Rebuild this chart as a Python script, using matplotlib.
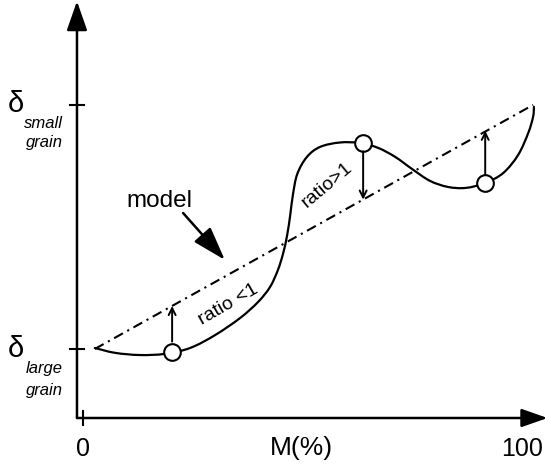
import numpy as np
import matplotlib.pyplot as plt
from matplotlib.path import Path
from matplotlib.patches import PathPatch

plt.rcParams['font.family'] = ['Liberation Sans', 'DejaVu Sans']

# measured curve (x in M%, y: 0 = delta large grain, 1 = delta small grain)
curve_x = [2.7, 7.3, 13.0, 18.7, 24.4, 30.1, 35.8, 39.9, 42.6, 44.4, 45.6,
           46.5, 47.2, 47.8, 48.8, 51.0, 54.0, 58.5, 63.1, 67.2, 71.1, 74.9,
           79.0, 83.1, 87.2, 91.6, 95.7, 99.1, 101.4, 102.5, 102.7]
curve_y = [0.004, -0.016, -0.025, -0.020, 0.004, 0.057, 0.127, 0.193, 0.254,
           0.324, 0.393, 0.467, 0.549, 0.631, 0.717, 0.787, 0.828, 0.846,
           0.844, 0.824, 0.787, 0.738, 0.689, 0.664, 0.660, 0.680, 0.721,
           0.795, 0.885, 0.951, 0.992]

model_x = [2.7, 102.5]
model_y = [0.0, 1.0]

circle_x = [20.3, 63.8, 91.6]
circle_y = [-0.012, 0.844, 0.680]

# ratio arrows: from the curve point to the model line
ratio_x = [20.3, 63.8, 91.6]
ratio_from = [0.03, 0.81, 0.715]
ratio_to = [0.176, 0.612, 0.894]

x_ticks = [0, 100]
x_tick_labels = ['0', '100']


def smooth_path(xs, ys):
    # catmull-rom through the points, drawn as cubic bezier segments
    p = np.column_stack([xs, ys])
    p = np.vstack([p[0], p, p[-1]])
    verts = [p[1]]
    codes = [Path.MOVETO]
    for i in range(1, len(p) - 2):
        c1 = p[i] + (p[i + 1] - p[i - 1]) / 6
        c2 = p[i + 1] - (p[i + 2] - p[i]) / 6
        verts += [c1, c2, p[i + 1]]
        codes += [Path.CURVE4] * 3
    return Path(verts, codes)


fig = plt.figure(figsize=(5.48, 4.69), dpi=100)
ax = fig.add_axes([0, 0, 1, 1])
ax.set_xlim(-18.9, 105.9)
ax.set_ylim(-0.492, 1.430)
ax.axis('off')

# axes with arrows
ax.annotate('', xy=(-1.37, 1.425), xytext=(-1.37, -0.283),
            arrowprops=dict(arrowstyle='-|>,head_length=1.0,head_width=0.35',
                            mutation_scale=18, lw=1.8, color='black',
                            shrinkA=0, shrinkB=0))
ax.annotate('', xy=(105.8, -0.283), xytext=(-1.37, -0.283),
            arrowprops=dict(arrowstyle='-|>,head_length=1.0,head_width=0.35',
                            mutation_scale=16, lw=1.8, color='black',
                            shrinkA=0, shrinkB=0))

# ticks
for xt in x_ticks:
    ax.plot([xt, xt], [-0.253, -0.313], color='black', lw=1.5)
for yt in [0, 1]:
    ax.plot([-2.9, 0.2], [yt, yt], color='black', lw=1.5)

# tick labels
for xt, lab in zip(x_ticks, x_tick_labels):
    ax.text(xt, -0.41, lab, ha='center', va='center', fontsize=18)
ax.text(49.7, -0.405, 'M(%)', ha='center', va='center', fontsize=19)

# delta labels
ax.text(-15.2, 1.005, 'δ', ha='center', va='center', fontsize=21)
ax.text(-4.6, 0.925, 'small', ha='right', va='center', fontsize=12, style='italic')
ax.text(-4.6, 0.848, 'grain', ha='right', va='center', fontsize=12, style='italic')
ax.text(-15.2, 0.0, 'δ', ha='center', va='center', fontsize=21)
ax.text(-4.6, -0.082, 'large', ha='right', va='center', fontsize=12, style='italic')
ax.text(-4.6, -0.172, 'grain', ha='right', va='center', fontsize=12, style='italic')

# model line and measured curve
ax.plot(model_x, model_y, color='black', lw=1.5,
        linestyle=(0, (4.8, 2.4, 1, 2.4)))
ax.add_patch(PathPatch(smooth_path(curve_x, curve_y), facecolor='none',
                       edgecolor='black', lw=1.6, capstyle='round'))
ax.plot(circle_x, circle_y, 'o', ms=12, mfc='white', mec='black', mew=1.5)

for x0, y0, y1 in zip(ratio_x, ratio_from, ratio_to):
    ax.annotate('', xy=(x0, y1), xytext=(x0, y0),
                arrowprops=dict(arrowstyle='->,head_length=0.5,head_width=0.25',
                                mutation_scale=10, lw=1.4, color='black',
                                shrinkA=0, shrinkB=0))

# labels
ax.text(17.5, 0.607, 'model', ha='center', va='center', fontsize=17.5)
ax.annotate('', xy=(32.3, 0.365), xytext=(22.8, 0.557),
            arrowprops=dict(arrowstyle='-|>,head_length=1.3,head_width=0.42',
                            mutation_scale=16, lw=1.8, color='black',
                            shrinkA=0, shrinkB=0))
ax.text(33.0, 0.18, 'ratio <1', ha='center', va='center', fontsize=14,
        rotation=30, rotation_mode='anchor')
ax.text(55.6, 0.672, 'ratio>1', ha='center', va='center', fontsize=14,
        rotation=40, rotation_mode='anchor')

fig.savefig('out.png', dpi=100)
